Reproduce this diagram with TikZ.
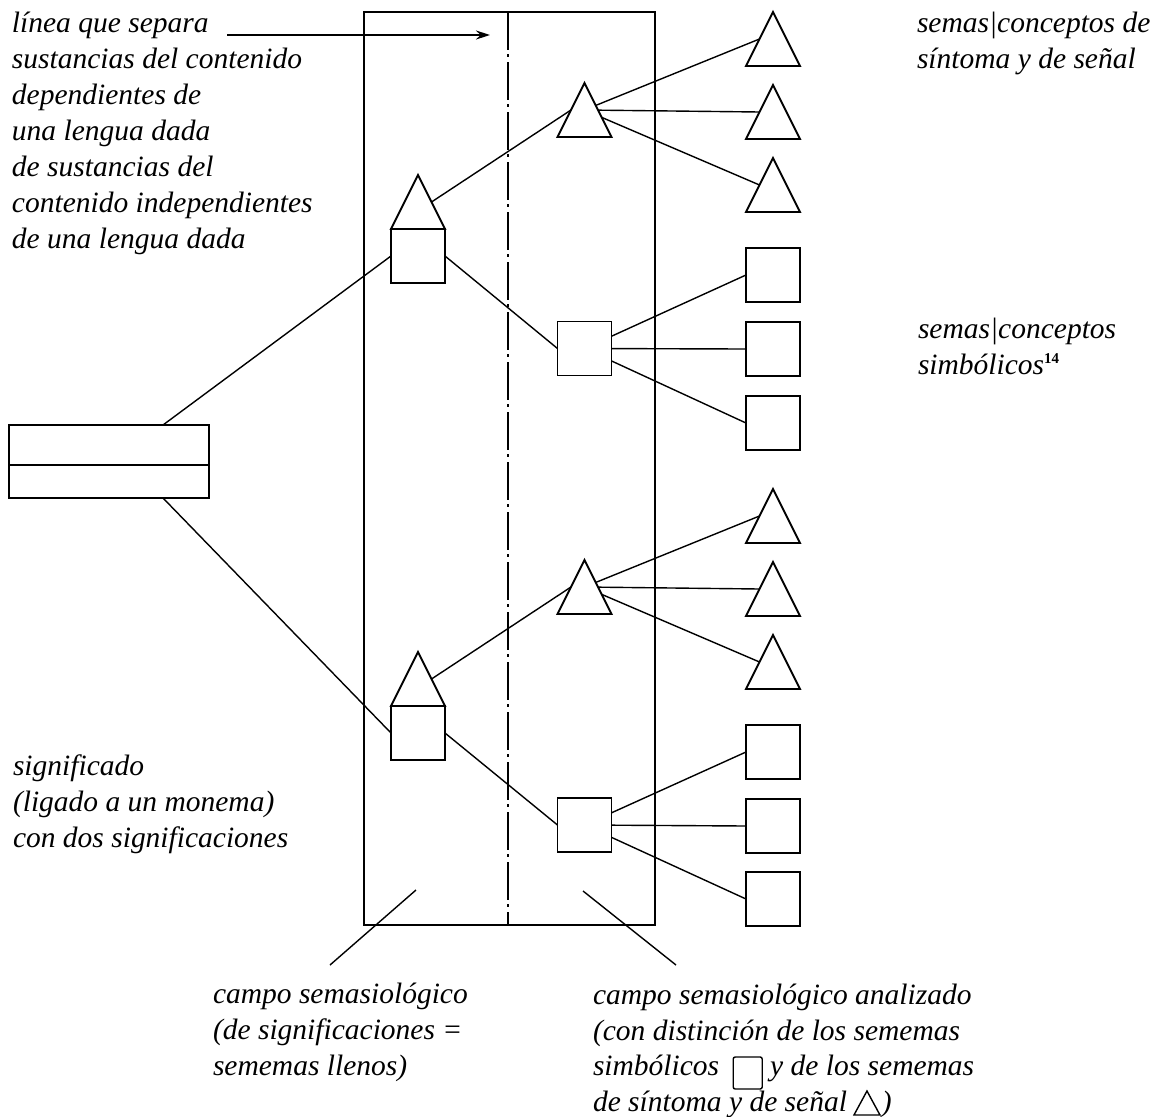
\documentclass[tikz,border=0pt]{standalone}
\usepackage{fontspec}
\setmainfont{Liberation Serif}
\usetikzlibrary{shapes.geometric,arrows.meta,calc}
\pgfdeclarelayer{background}
\pgfsetlayers{background,main}
\begin{document}
\begin{tikzpicture}[x=1pt,y=-1pt,
  every node/.style={inner sep=0pt, outer sep=0pt},
  shp/.style={draw, line width=1.9pt},
  sq/.style={shp, rectangle, minimum width=54pt, minimum height=54pt},
  tri/.style={shp, fill=white, isosceles triangle, isosceles triangle stretches, shape border rotate=90, minimum width=54pt, minimum height=54pt},
  conn/.style={line width=1.4pt},
  lbl/.style={font=\itshape\fontsize{29.5}{36}\selectfont, align=left, anchor=base west},
  dashdot/.style={line width=1.4pt, dash pattern=on 38pt off 4pt on 3pt off 5pt},
]
\useasboundingbox (0,0) rectangle (1163,1117);

% field rectangle and separating line
\node[shp, minimum width=291pt, minimum height=913pt, anchor=north west] (field) at (364,12) {};
\coordinate (sepT) at ($(field.north west)!0.495!(field.north east)$);
\coordinate (sepB) at ($(field.south west)!0.495!(field.south east)$);
\draw[dashdot] (sepT) -- (sepB);

% significado box
\node[shp, minimum width=200pt, minimum height=40pt, anchor=south west] (m1) at (9,465) {};
\node[shp, minimum width=200pt, minimum height=33pt, anchor=north west] (m2) at (9,465) {};

% upper group
\node[sq] (ua) at (418,256) {};
\node[tri, anchor=lower side] (uat) at (ua.north) {};
\node[tri, anchor=apex] (umt) at (584.5,83) {};
\node[sq] (ums) at (584.5,348.5) {};
\node[tri, anchor=apex] (urt1) at (773,12) {};
\node[tri, anchor=apex] (urt2) at (773,85) {};
\node[tri, anchor=apex] (urt3) at (773,158) {};
\node[sq] (urs1) at (773,275) {};
\node[sq] (urs2) at (773,349) {};
\node[sq] (urs3) at (773,423) {};

% lower group
\node[sq] (la) at (418,733) {};
\node[tri, anchor=lower side] (lat) at (la.north) {};
\node[tri, anchor=apex] (lmt) at (584.5,560) {};
\node[sq] (lms) at (584.5,825) {};
\node[tri, anchor=apex] (lrt1) at (773,489) {};
\node[tri, anchor=apex] (lrt2) at (773,562) {};
\node[tri, anchor=apex] (lrt3) at (773,635) {};
\node[sq] (lrs1) at (773,752) {};
\node[sq] (lrs2) at (773,826) {};
\node[sq] (lrs3) at (773,899) {};

% connectors
\coordinate (mtop) at ($(m1.north west)!0.77!(m1.north east)$);
\coordinate (mbot) at ($(m2.south west)!0.77!(m2.south east)$);
\coordinate (umc) at ($(umt.apex)!0.5!(umt.lower side)$);
\coordinate (lmc) at ($(lmt.apex)!0.5!(lmt.lower side)$);
\draw[conn] (mtop) -- (ua.west);
\draw[conn] (mbot) -- (la.west);
\draw[conn] (ua.east) -- (ums.west);
\draw[conn] (la.east) -- (lms.west);
\draw[conn] (uat.right side) -- (umt.left side);
\draw[conn] (lat.right side) -- (lmt.left side);
\begin{pgfonlayer}{background}
\foreach \i in {1,2,3} {
  \draw[conn] (umc) -- (urt\i.left side);
  \draw[conn] (lmc) -- (lrt\i.left side);
}
\end{pgfonlayer}
\foreach \i in {1,2,3} {
  \draw[conn] (ums) -- (urs\i.west);
  \draw[conn] (lms) -- (lrs\i.west);
}

% arrow and pointers
\coordinate (arrS) at (227,35);
\coordinate (arrE) at (490,35);
\draw[conn, -{Stealth[length=14pt,width=9pt]}] (arrS) -- (arrE);
\coordinate (p1a) at (416,890);
\coordinate (p1b) at (330,965);
\coordinate (p2a) at (583,891);
\coordinate (p2b) at (676,965);
\draw[conn] (p1a) -- (p1b);
\draw[conn] (p2a) -- (p2b);

% texts (base anchor = baseline of the last line)
\node[lbl] (tl) at (12,248) {línea que separa\\sustancias del contenido\\dependientes de\\una lengua dada\\de sustancias del\\contenido independientes\\de una lengua dada};
\node[lbl] (tr1) at (917,68) {semas|conceptos de\\síntoma y de señal};
\node[lbl] (tr2) at (918,374) {semas|conceptos\\simbólicos\raisebox{11pt}{\fontsize{15}{15}\selectfont\upshape\bfseries 14}};
\node[lbl] (bl) at (13,847) {significado\\(ligado a un monema)\\con dos significaciones};
\node[lbl] (b1) at (213,1075) {campo semasiológico\\(de significaciones =\\sememas llenos)};
\node[lbl] (b2) at (593,1040) {campo semasiológico analizado\\(con distinción de los sememas};
\node[lbl] (b3a) at (593,1075) {simbólicos};
\node[draw, line width=1.4pt, rounded corners=2pt, minimum width=29pt, minimum height=32pt, anchor=north west] (ksq) at ($(b3a.base east)+(14,-18)$) {};
\node[lbl] (b3b) at ($(ksq.east |- b3a.base)+(8,0)$) {y de los sememas};
\node[lbl] (b4a) at (593,1111) {de síntoma y de señal};
\node[draw, line width=1.4pt, isosceles triangle, isosceles triangle stretches, shape border rotate=90, minimum width=26pt, minimum height=24pt, anchor=lower side] (ktri) at ($(b4a.base east)+(20,4)$) {};
\node[lbl] (b4b) at ($(ktri.lower side |- b4a.base)+(15,0)$) {)};
\end{tikzpicture}
\end{document}
